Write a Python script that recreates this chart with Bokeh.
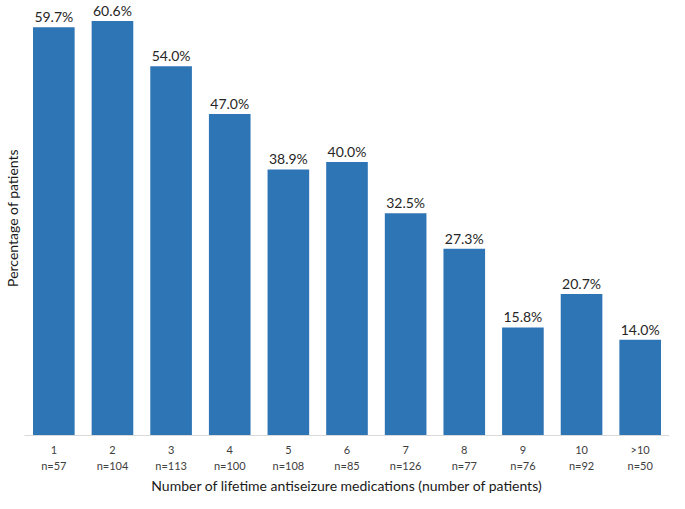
from bokeh.plotting import figure
from bokeh.models import ColumnDataSource, LabelSet, Range1d, FactorRange, FixedTicker, CategoricalAxis, Title
from bokeh.core.properties import value
from bokeh.embed import file_html
from bokeh.resources import INLINE

categories = ["1", "2", "3", "4", "5", "6", "7", "8", "9", "10", ">10"]
percentages = [59.7, 60.6, 54.0, 47.0, 38.9, 40.0, 32.5, 27.3, 15.8, 20.7, 14.0]
patients = [57, 104, 113, 100, 108, 85, 126, 77, 76, 92, 50]
x_title = "Number of lifetime antiseizure medications (number of patients)"
y_title = "Percentage of patients"

labels = [f"{v:.1f}%" for v in percentages]
nlabels = [f"n={n}" for n in patients]
src = ColumnDataSource(dict(cat=categories, pct=percentages, lab=labels))

FONT = "Lato"

p = figure(width=669, height=493, x_range=FactorRange(*categories, range_padding=0),
           y_range=Range1d(0, 63.6), output_backend="svg", toolbar_location=None,
           min_border_left=0, min_border_right=0, min_border_top=0, min_border_bottom=0)
p.extra_x_ranges = {"n": FactorRange(*nlabels, range_padding=0)}
p.outline_line_color = None
p.grid.grid_line_color = None

p.vbar(x="cat", top="pct", width=0.71, source=src, fill_color="#2E75B6", line_color=None)

ls = LabelSet(x="cat", y="pct", text="lab", source=src, text_align="center",
              text_baseline="bottom", y_offset=2, text_font=value(FONT),
              text_font_size="14px", text_color="#262626")
p.add_layout(ls)

ax = p.xaxis[0]
ax.axis_line_color = "#d9d9d9"
ax.major_tick_line_color = None
ax.major_tick_out = 0
ax.major_tick_in = 0
ax.major_label_standoff = 7
ax.major_label_text_font = FONT
ax.major_label_text_font_size = "11px"
ax.major_label_text_color = "#404040"

ax2 = CategoricalAxis(x_range_name="n")
ax2.axis_line_color = None
ax2.major_tick_line_color = None
ax2.major_tick_out = 0
ax2.major_tick_in = 0
ax2.major_label_standoff = 0
ax2.major_label_text_font = FONT
ax2.major_label_text_font_size = "11px"
ax2.major_label_text_color = "#404040"
p.add_layout(ax2, "below")

t = Title(text=x_title, align="center", standoff=0, text_font=FONT,
          text_font_size="14px", text_font_style="normal", text_color="#1a1a1a")
p.add_layout(t, "below")

p.yaxis.ticker = FixedTicker(ticks=[])
p.yaxis.axis_line_color = None
p.yaxis.major_tick_out = 0
p.yaxis.major_tick_in = 0
p.yaxis.major_label_standoff = 0
p.yaxis.axis_label = y_title
p.yaxis.axis_label_text_font = FONT
p.yaxis.axis_label_text_font_size = "14px"
p.yaxis.axis_label_text_font_style = "normal"
p.yaxis.axis_label_text_color = "#1a1a1a"
p.yaxis.axis_label_standoff = 4

open("out.html", "w").write(file_html(p, INLINE))
